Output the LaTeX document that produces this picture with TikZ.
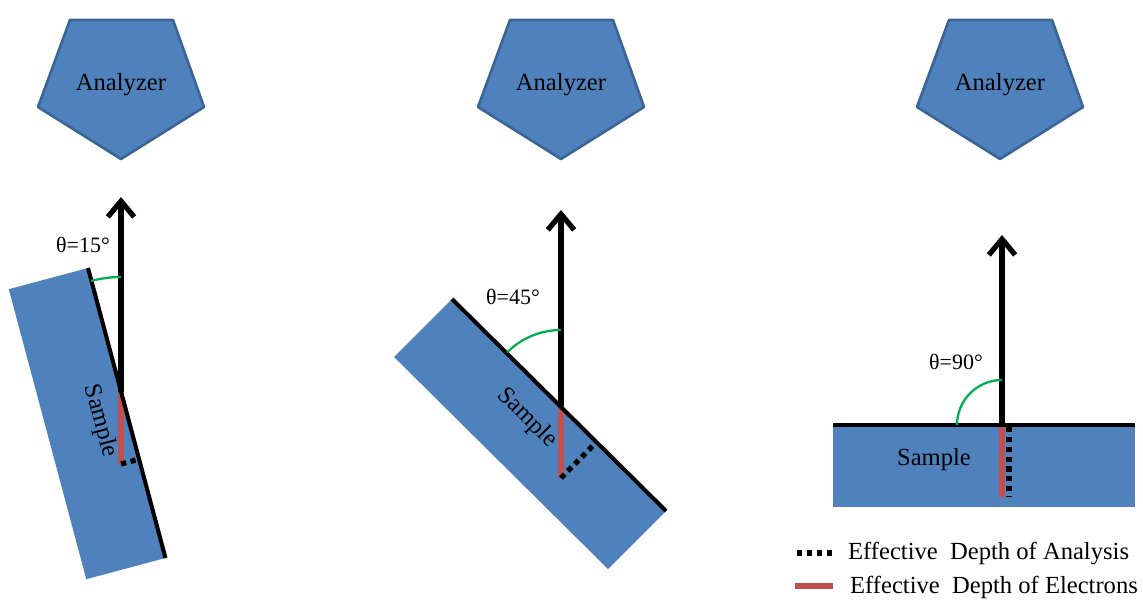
\documentclass[tikz,border=0pt]{standalone}
\usepackage{fontspec}
\setmainfont{Liberation Serif}
\usetikzlibrary{calc, arrows.meta, positioning}
\definecolor{samplefill}{HTML}{4F81BD}
\definecolor{analyzerrim}{HTML}{3A6596}
\definecolor{electronred}{HTML}{C0504D}
\definecolor{arcgreen}{HTML}{00B050}

\begin{document}
\begin{tikzpicture}[
    x=0.02cm, y=-0.02cm,
    analyzer/.style={draw=analyzerrim, fill=samplefill, line width=1.5pt, line join=round},
    sample/.style={fill=samplefill},
    surface/.style={line width=2.3pt},
    beam/.style={line width=3pt, -{Straight Barb[length=9pt, width=15pt]}},
    edepth/.style={draw=electronred, line width=3pt},
    adepth/.style={line width=3pt, dash pattern=on 3pt off 2.6pt},
    anglearc/.style={draw=arcgreen, line width=1.3pt},
    lbl/.style={font=\fontsize{14}{16}\selectfont, inner sep=1pt},
    anglelbl/.style={font=\fontsize{12.5}{15}\selectfont, inner sep=1pt}
]
    \useasboundingbox (0,0) rectangle (1143,605);

    % Analyzers (y = 20 .. 159)
    \foreach \cx/\nm in {121/an1, 561/an2, 1000/an3} {
        \draw [analyzer] (\cx-51,20) -- (\cx+52,20) -- (\cx+83,107) -- (\cx,159) -- (\cx-83,107) -- cycle;
        \node (\nm) at (\cx,85) [lbl] {Analyzer};
    }

    % Panel 1: theta = 15 deg
    \coordinate (p1) at (121,392);
    \coordinate (s1a) at (88,268);
    \coordinate (s1b) at (165.5,558);
    \coordinate (e1) at (121,464);
    \coordinate (t1) at (121,197);
    \fill [sample] (s1a) -- (s1b) -- ($(s1b)+(-79.2,21.2)$) -- ($(s1a)+(-79.2,21.2)$) -- cycle;
    \draw [edepth] (p1) -- (e1);
    \draw [adepth] (e1) -- ($(s1a)!(e1)!(s1b)$);
    \draw [surface] (s1a) -- (s1b);
    \draw [beam] (p1) -- (t1);
    \draw [anglearc] (p1) ++(255:115) arc[start angle=255, end angle=270, radius=115];
    \node (ang1) at (83,245) [anglelbl] {θ=15°};
    \node (smp1) at (100,421) [lbl, rotate=-75] {Sample};

    % Panel 2: theta = 45 deg
    \coordinate (p2) at (561,406);
    \coordinate (s2a) at (452,299);
    \coordinate (s2b) at (666,511);
    \coordinate (e2) at (561,478);
    \coordinate (t2) at (561,210);
    \fill [sample] (s2a) -- (s2b) -- ($(s2b)+(-58,58)$) -- ($(s2a)+(-58,58)$) -- cycle;
    \draw [edepth] (p2) -- (e2);
    \draw [adepth] (e2) -- ($(s2a)!(e2)!(s2b)$);
    \draw [surface] (s2a) -- (s2b);
    \draw [beam] (p2) -- (t2);
    \draw [anglearc] (p2) ++(225:76) arc[start angle=225, end angle=270, radius=76];
    \node (ang2) at (513,297) [anglelbl] {θ=45°};
    \node (smp2) at (527,418) [lbl, rotate=-45] {Sample};

    % Panel 3: theta = 90 deg
    \coordinate (p3) at (1002,425);
    \coordinate (s3a) at (833,425);
    \coordinate (s3b) at (1135,425);
    \coordinate (e3) at (1002,497);
    \coordinate (t3) at (1002,235);
    \fill [sample] (s3a) rectangle (1135,507);
    \draw [edepth] (p3) -- (e3);
    \draw [adepth] ($(p3)+(7,2)$) -- ($(e3)+(7,0)$);
    \draw [surface] (s3a) -- (s3b);
    \draw [beam] (p3) -- (t3);
    \draw [anglearc] (p3) ++(180:45) arc[start angle=180, end angle=270, radius=45];
    \node (ang3) at (956,362) [anglelbl] {θ=90°};
    \node (smp3) at (934,460) [lbl] {Sample};

    % Legend
    \coordinate (lg1a) at (797,553);
    \coordinate (lg1b) at (833,553);
    \coordinate (lg2a) at (795,586);
    \coordinate (lg2b) at (833,586);
    \draw [adepth] (lg1a) -- (lg1b);
    \draw [edepth] (lg2a) -- (lg2b);
    \node (lgtxt1) at (846,553) [lbl, anchor=west] {Effective\ \ Depth of Analysis};
    \node (lgtxt2) at (848,587) [lbl, anchor=west] {Effective\ \ Depth of Electrons};

\end{tikzpicture}
\end{document}
